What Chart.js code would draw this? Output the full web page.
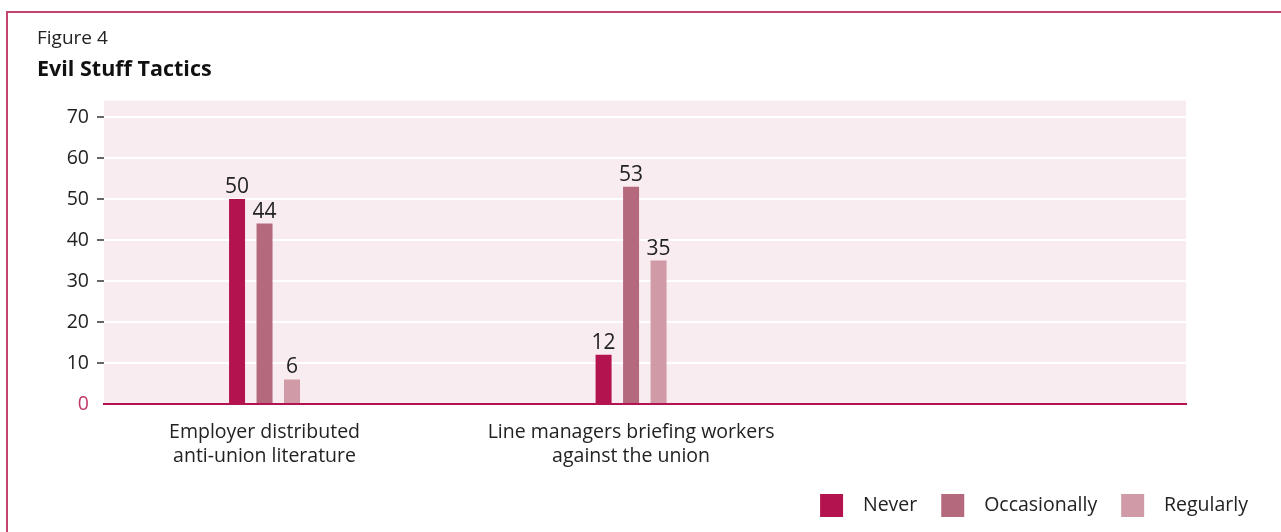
<!DOCTYPE html>
<html>
<head>
<meta charset="utf-8">
<title>Evil Stuff Tactics</title>
<script src="https://cdn.jsdelivr.net/npm/chart.js@4.4.1/dist/chart.umd.min.js"></script>
<style>
  html, body { margin: 0; padding: 0; background: #fff; }
  #frame {
    position: absolute; left: 6px; top: 11px;
    width: 1300px; height: 560px;
    border: 2px solid #c2446f;
  }
  #chart { position: absolute; left: 0; top: 0; }
</style>
</head>
<body>
<div id="frame"></div>
<canvas id="chart" width="1281" height="532"></canvas>
<script>
// Tactic categories, one label line per entry
const categories = [
  ["Employer distributed", "anti-union literature"],
  ["Line managers briefing workers", "against the union"]
];
const seriesNames = ["Never", "Occasionally", "Regularly"];
const neverValues = [50, 12];
const occasionallyValues = [44, 53];
const regularlyValues = [6, 35];
const yTicks = [0, 10, 20, 30, 40, 50, 60, 70];

const CRIMSON = "#b3134f";
const seriesColors = ["#b3134f", "#b46a7c", "#d09aa6"];
const FONT = "'Open Sans', 'Noto Sans', sans-serif";
const TEXT_SIZE = 19.5;

function toPoints(values) {
  return values.map((v, i) => ({ x: i, y: v }));
}

// pink plot background behind the grid
const plotBackground = {
  id: "plotBackground",
  beforeDraw(chart) {
    const { ctx, chartArea: a } = chart;
    ctx.save();
    ctx.fillStyle = "#f8ecf0";
    ctx.fillRect(a.left, a.top, a.right - a.left, a.bottom - a.top);
    ctx.restore();
  }
};

// value printed above each bar
const valueLabels = {
  id: "valueLabels",
  afterDatasetsDraw(chart) {
    const { ctx } = chart;
    ctx.save();
    ctx.font = "21px " + FONT;
    ctx.fillStyle = "#222";
    ctx.textAlign = "center";
    ctx.textBaseline = "alphabetic";
    chart.data.datasets.forEach((ds, di) => {
      chart.getDatasetMeta(di).data.forEach((bar, i) => {
        ctx.fillText(String(ds.data[i].y), bar.x, bar.y - 6);
      });
    });
    ctx.restore();
  }
};

const valueSets = [neverValues, occasionallyValues, regularlyValues];

new Chart(document.getElementById("chart"), {
  type: "bar",
  data: {
    datasets: seriesNames.map((name, k) => ({
      label: name,
      data: toPoints(valueSets[k]),
      backgroundColor: seriesColors[k],
      borderWidth: 0,
      categoryPercentage: 0.225,
      barPercentage: 0.582
    }))
  },
  options: {
    responsive: false,
    devicePixelRatio: 1,
    animation: false,
    layout: { padding: { left: 37, right: 9, top: 0, bottom: 5 } },
    scales: {
      x: {
        type: "linear",
        offset: false,
        min: -0.438,
        max: 2.514,
        afterBuildTicks: s => { s.ticks = categories.map((c, i) => ({ value: i })); },
        afterFit: s => { s.height = 66; },
        grid: { display: false, drawTicks: false },
        border: { display: true, color: CRIMSON, width: 2 },
        ticks: {
          autoSkip: false,
          maxRotation: 0,
          padding: 16,
          color: "#222",
          font: { family: FONT, size: TEXT_SIZE, lineHeight: 1.23 },
          callback: v => categories[v] || ""
        }
      },
      y: {
        min: 0,
        max: 74,
        afterBuildTicks: s => { s.ticks = yTicks.map(v => ({ value: v })); },
        afterFit: s => { s.width = 67; },
        border: { display: false },
        grid: {
          lineWidth: 2,
          color: c => (c.tick && c.tick.value === 0 ? CRIMSON : "#ffffff"),
          tickColor: c => (c.tick && c.tick.value === 0 ? "rgba(0,0,0,0)" : "#333"),
          tickWidth: 1.5,
          tickLength: 7
        },
        ticks: {
          padding: 8,
          color: c => (c.tick && c.tick.value === 0 ? "#c0396b" : "#222"),
          font: { family: FONT, size: TEXT_SIZE }
        }
      },
      // empty right-hand axis: keeps the plot clear of the legend's right end
      spacer: {
        position: "right",
        display: true,
        grid: { display: false, drawTicks: false },
        border: { display: false },
        ticks: { display: false },
        afterFit: s => { s.width = 86; }
      }
    },
    plugins: {
      title: {
        display: true,
        text: "Figure 4",
        align: "start",
        color: "#222",
        font: { family: FONT, size: 19, weight: "normal", lineHeight: 1.2 },
        padding: { top: 27, bottom: 0 }
      },
      subtitle: {
        display: true,
        text: "Evil Stuff Tactics",
        align: "start",
        color: "#111",
        font: { family: FONT, size: 21.5, weight: "bold", lineHeight: 1.2 },
        padding: { top: 7, bottom: 18 }
      },
      legend: {
        display: true,
        position: "bottom",
        align: "end",
        labels: {
          boxWidth: 23,
          boxHeight: 23,
          padding: 24,
          color: "#222",
          font: { family: FONT, size: TEXT_SIZE },
          generateLabels: chart =>
            Chart.defaults.plugins.legend.labels.generateLabels(chart)
              .map(item => ({ ...item, text: "  " + item.text }))
        }
      },
      tooltip: { enabled: false }
    }
  },
  plugins: [plotBackground, valueLabels]
});
</script>
</body>
</html>
